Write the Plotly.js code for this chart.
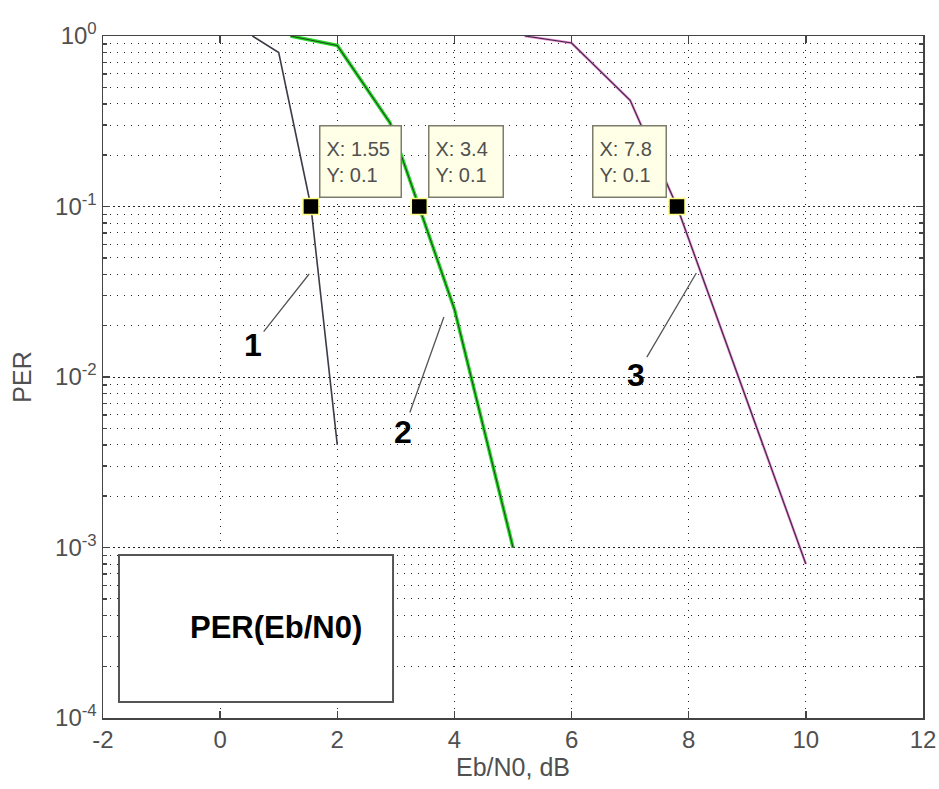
<!DOCTYPE html>
<html>
<head>
<meta charset="utf-8">
<script src="https://cdn.plot.ly/plotly-3.0.1.min.js"></script>
<style>html,body{margin:0;padding:0;background:#fff;}#chart{width:939px;height:789px;}</style>
</head>
<body>
<div id="chart"></div>
<script>
// ---- data ----
const x1 = [0.55, 1.0, 1.55, 2.0];
const y1 = [1.0, 0.8, 0.1, 0.004];
const x2 = [1.2, 2.0, 2.9, 3.4, 4.0, 5.0];
const y2 = [1.0, 0.88, 0.31, 0.1, 0.025, 0.001];
const x3 = [5.2, 6.0, 7.0, 7.8, 10.0];
const y3 = [1.0, 0.91, 0.42, 0.1, 0.0008];
const tipX = [1.55, 3.4, 7.8];
const tipY = [0.1, 0.1, 0.1];
const curveLabels = ['1', '2', '3'];
const yTickVals = [1e-4, 1e-3, 1e-2, 1e-1, 1];
const yTickText = ['10<sup>-4</sup>', '10<sup>-3</sup>', '10<sup>-2</sup>', '10<sup>-1</sup>', '10<sup>0</sup>'];
const xTickVals = [-2, 0, 2, 4, 6, 8, 10, 12];
const xTickText = ['-2', '0', '2', '4', '6', '8', '10', '12'];

const FONT = 'Liberation Sans, Arial, sans-serif';

// minor grid positions (2..9 in each decade)
const minorVals = [];
for (let e = -4; e < 0; e++) for (let m = 2; m <= 9; m++) minorVals.push(m * Math.pow(10, e));

const traces = [
  {x: x1, y: y1, mode: 'lines', line: {color: '#3c3c48', width: 1.6}, hoverinfo: 'skip'},
  {x: x2, y: y2, mode: 'lines', line: {color: '#2ad82a', width: 3.6}, hoverinfo: 'skip'},
  {x: x2, y: y2, mode: 'lines', line: {color: '#1f4a1f', width: 1.1}, hoverinfo: 'skip'},
  {x: x3, y: y3, mode: 'lines', line: {color: '#ee8ed8', width: 2.6}, hoverinfo: 'skip'},
  {x: x3, y: y3, mode: 'lines', line: {color: '#3e2c44', width: 1.2}, hoverinfo: 'skip'},
  {x: tipX, y: tipY, mode: 'markers', marker: {symbol: 'square', size: 16, color: '#000', line: {color: '#ffff80', width: 1.5}}, hoverinfo: 'skip'}
];

// datatip boxes
const tipBoxes = [
  {anchor: 'left', shift: 8, w: 68},
  {anchor: 'left', shift: 9, w: 61},
  {anchor: 'right', shift: -10, w: 60}
];
const annotations = [];
tipX.forEach((xv, i) => {
  annotations.push({
    x: xv, y: Math.log10(tipY[i]), xref: 'x', yref: 'y',
    text: 'X: ' + xv + '<br>Y: ' + tipY[i],
    showarrow: false, xanchor: tipBoxes[i].anchor, yanchor: 'bottom',
    xshift: tipBoxes[i].shift, yshift: 9,
    align: 'left', valign: 'middle',
    width: tipBoxes[i].w, height: 58,
    bgcolor: '#ffffe8', bordercolor: '#7c7c6a', borderwidth: 1.5, borderpad: 6,
    font: {family: FONT, size: 20, color: '#505050'}
  });
});

// curve labels with leader lines
const leaderPts = [
  {x: 1.52, ly: -1.396, ax: -56, ay: 71},
  {x: 3.82, ly: -1.648, ax: -41, ay: 115},
  {x: 8.13, ly: -1.39, ax: -60, ay: 102}
];
curveLabels.forEach((t, i) => {
  annotations.push({
    x: leaderPts[i].x, y: leaderPts[i].ly, xref: 'x', yref: 'y',
    text: '<b>' + t + '</b>', showarrow: true, arrowhead: 0, arrowwidth: 1.3,
    arrowcolor: '#555', ax: leaderPts[i].ax, ay: leaderPts[i].ay,
    font: {family: FONT, size: 32, color: '#000'}
  });
});

// legend-like box
annotations.push({
  x: 0.211, y: 0.132, xref: 'paper', yref: 'paper', showarrow: false,
  xanchor: 'center', yanchor: 'middle',
  text: '<b>PER(Eb/N0)</b>', font: {family: FONT, size: 31, color: '#000'}
});

const layout = {
  width: 939, height: 789,
  margin: {l: 103, r: 16, t: 36, b: 71},
  paper_bgcolor: '#fff', plot_bgcolor: '#fff',
  showlegend: false,
  font: {family: FONT, color: '#505050'},
  xaxis: {
    range: [-2, 12], tickmode: 'array', tickvals: xTickVals, ticktext: xTickText,
    ticks: 'inside', ticklen: 7, tickwidth: 1.5, tickcolor: '#444',
    showline: true, linecolor: '#444', linewidth: 1.5, mirror: 'ticks',
    showgrid: true, gridcolor: '#222', gridwidth: 1, griddash: '1px,6px',
    zeroline: false,
    tickfont: {family: FONT, size: 24, color: '#505050'},
    title: {text: 'Eb/N0, dB', font: {family: FONT, size: 25, color: '#505050'}, standoff: 2}
  },
  yaxis: {
    type: 'log', range: [-4, 0], tickmode: 'array', tickvals: yTickVals, ticktext: yTickText,
    ticks: 'inside', ticklen: 7, tickwidth: 1.5, tickcolor: '#444',
    showline: true, linecolor: '#444', linewidth: 1.5, mirror: 'ticks',
    showgrid: true, gridcolor: '#222', gridwidth: 1, griddash: '2px,3px',
    zeroline: false,
    tickfont: {family: FONT, size: 24, color: '#505050'},
    minor: {tickmode: 'array', tickvals: minorVals, ticks: 'inside', ticklen: 4, tickcolor: '#444',
            showgrid: true, gridcolor: '#222', gridwidth: 1, griddash: '1px,6px'},
    title: {text: 'PER', font: {family: FONT, size: 25, color: '#505050'}, standoff: 16}
  },
  shapes: [
    {type: 'rect', xref: 'paper', yref: 'paper', x0: 0.0195, x1: 0.3537, y0: 0.0235, y1: 0.239,
     fillcolor: '#fff', line: {color: '#555', width: 2}, layer: 'above'}
  ],
  annotations: annotations
};

Plotly.newPlot('chart', traces, layout, {displayModeBar: false, staticPlot: true});
</script>
</body>
</html>
